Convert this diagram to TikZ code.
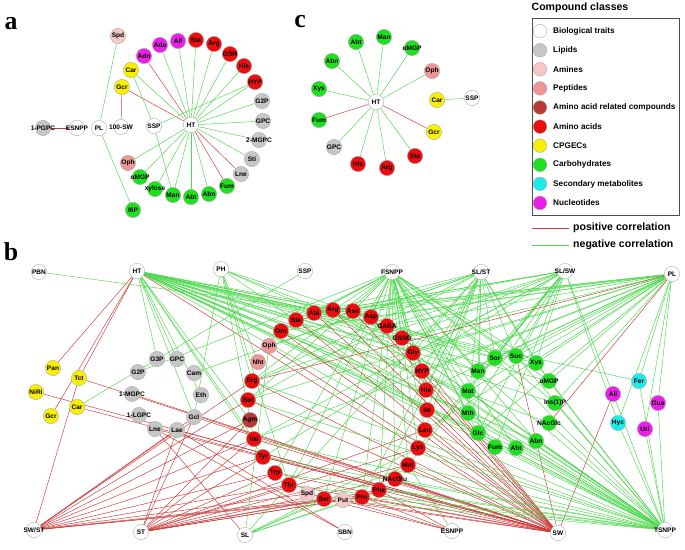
\documentclass[tikz,border=0pt]{standalone}
\usepackage{fontspec}
\setmainfont{Liberation Serif}
\setsansfont{Liberation Sans}
\usepackage{xcolor}
\usetikzlibrary{backgrounds}
\definecolor{Rim}{HTML}{A8A8A8}
\definecolor{LipidGray}{HTML}{C6C6C6}
\definecolor{AminePink}{HTML}{F5C8C8}
\definecolor{PeptidePink}{HTML}{EE9696}
\definecolor{AArelRed}{HTML}{BC3833}
\definecolor{AminoRed}{HTML}{EC0E0E}
\definecolor{CpgecYellow}{HTML}{F8F000}
\definecolor{CarbGreen}{HTML}{1EE01E}
\definecolor{SecCyan}{HTML}{1EEAEA}
\definecolor{NuclMagenta}{HTML}{EA1EEA}
\definecolor{PosRed}{HTML}{CC3A3A}
\definecolor{NegGreen}{HTML}{4ED84E}
\newcommand{\met}[4]{\node[#1] (#2) at (#3) {\makebox[0pt]{#4}};}
\tikzset{
  trait/.style={circle, draw=Rim, fill=white, line width=0.3pt, minimum size=4.6mm, inner sep=0pt, font=\sffamily\bfseries\fontsize{5.6}{6}\selectfont},
  lipid/.style={trait, fill=LipidGray},
  amine/.style={trait, fill=AminePink},
  peptide/.style={trait, fill=PeptidePink},
  aarel/.style={trait, fill=AArelRed},
  amino/.style={trait, fill=AminoRed},
  cpgec/.style={trait, fill=CpgecYellow},
  carb/.style={trait, fill=CarbGreen},
  secm/.style={trait, fill=SecCyan},
  nucl/.style={trait, fill=NuclMagenta},
  posline/.style={draw=PosRed, line width=0.4pt},
  negline/.style={draw=NegGreen, line width=0.4pt},
  panel/.style={font=\rmfamily\bfseries\fontsize{22}{22}\selectfont, inner sep=0pt},
  legtext/.style={anchor=west, inner sep=0pt, font=\sffamily\bfseries\fontsize{7}{8}\selectfont},
  keytext/.style={anchor=west, inner sep=0pt, font=\sffamily\bfseries\fontsize{9}{10}\selectfont}
}

\begin{document}
\begin{tikzpicture}[x=0.03cm, y=-0.03cm]
  \useasboundingbox (0,0) rectangle (685,549);

  % panel letters
  \node[panel] (labA) at (11,24) {a};
  \node[panel] (labB) at (11,252) {b};
  \node[panel] (labC) at (300,22) {c};

  % ---- panel a
  \met{amine}{aSpd}{118,36}{Spd}
  \met{nucl}{aAdn}{144,56}{Adn}
  \met{nucl}{aAde}{160,45}{Ade}
  \met{nucl}{aAll}{178,41}{All}
  \met{amino}{aSta}{196,40}{Sta}
  \met{amino}{aArg}{214,44}{Arg}
  \met{amino}{aGSH}{230,54}{GSH}
  \met{amino}{aHis}{244,66}{His}
  \met{amino}{aHYP}{255,82}{HYP}
  \met{lipid}{aG2P}{262,101}{G2P}
  \met{lipid}{aGPC}{263,121}{GPC}
  \met{lipid}{a2MGPC}{259,140}{2-MGPC}
  \met{lipid}{aSti}{252,159}{Sti}
  \met{lipid}{aLne}{241,174}{Lne}
  \met{carb}{aFum}{227,186}{Fum}
  \met{carb}{aAbn}{209,194}{Abn}
  \met{carb}{aAbt}{191,197}{Abt}
  \met{carb}{aMan}{173,195}{Man}
  \met{carb}{aXyl}{155,189}{xylose}
  \met{carb}{aMGP}{140,177}{αMGP}
  \met{carb}{aI6P}{133,210}{I6P}
  \met{peptide}{aOph}{128,163}{Oph}
  \met{cpgec}{aCar}{131,70}{Car}
  \met{cpgec}{aGcr}{122,87}{Gcr}
  \met{trait}{aHT}{191,125}{HT}
  \met{trait}{aSSP}{154,126}{SSP}
  \met{trait}{a100SW}{121,127}{100-SW}
  \met{trait}{aPL}{99,128}{PL}
  \met{trait}{aESNPP}{77,128}{ESNPP}
  \met{lipid}{a1PGPC}{43,128}{1-PGPC}

  \begin{scope}[on background layer]
    \foreach \m in {aAde,aAll,aSta,aArg,aGSH,aHis,aHYP,aG2P,aGPC,a2MGPC,aSti,aAbn,aAbt,aMan,aXyl,aMGP,aOph,aCar}
      \draw[negline] (aHT) -- (\m);
    \foreach \m in {aAdn,aGcr,aLne,aFum}
      \draw[posline] (aHT) -- (\m);
    \draw[negline] (aPL) -- (aSpd);
    \draw[negline] (aPL) -- (aI6P);
    \draw[negline] (aCar) -- (aSSP);
    \draw[negline] (aSSP) -- (aMan);
    \draw[negline] (aHYP) -- (aSSP);
    \draw[posline] (a1PGPC) -- (aESNPP);
    \draw[posline] (aGcr) -- (a100SW);
  \end{scope}

  % ---- panel c
  \met{carb}{cAbt}{356,42}{Abt}
  \met{carb}{cMan}{384,37}{Man}
  \met{carb}{cMGP}{412,48}{αMGP}
  \met{carb}{cAbn}{332,61}{Abn}
  \met{carb}{cXys}{319,89}{Xys}
  \met{carb}{cFum}{319,120}{Fum}
  \met{peptide}{cOph}{432,71}{Oph}
  \met{trait}{cHT}{376,102}{HT}
  \met{trait}{cSSP}{472,98}{SSP}
  \met{cpgec}{cCar}{437,100}{Car}
  \met{cpgec}{cGcr}{434,132}{Gcr}
  \met{lipid}{cGPC}{334,147}{GPC}
  \met{amino}{cHis}{358,164}{His}
  \met{amino}{cArg}{387,168}{Arg}
  \met{amino}{cSta}{415,156}{Sta}

  \begin{scope}[on background layer]
    \foreach \m in {cAbt,cMan,cMGP,cOph,cAbn,cXys,cGPC,cHis,cArg,cSta}
      \draw[negline] (cHT) -- (\m);
    \draw[posline] (cHT) -- (cFum);
    \draw[posline] (cHT) -- (cGcr);
    \draw[negline] (cCar) -- (cSSP);
  \end{scope}

  % ---- legend
  \node[font=\sffamily\bfseries\fontsize{9}{10}\selectfont, inner sep=0pt] (legTitle) at (580,8) {Compound classes};
  \node[draw=black!70, line width=0.4pt, minimum width=4.41cm, minimum height=5.91cm, inner sep=0pt] (legBox) at (605.5,116.5) {};
  \foreach \c/\txt [count=\i] in {white/Biological traits, LipidGray/Lipids, AminePink/Amines,
      PeptidePink/Peptides, AArelRed/Amino acid related compounds, AminoRed/Amino acids,
      CpgecYellow/CPGECs, CarbGreen/Carbohydrates, SecCyan/Secondary metabolites, NuclMagenta/Nucleotides} {
    \node[trait, fill=\c, minimum size=4.1mm] (key\i) at (540,12+19.1*\i) {};
    \node[legtext] (keyTxt\i) at (553,12+19.1*\i) {\txt};
  }
  \coordinate (posA) at (532,228);
  \coordinate (posB) at (569,228);
  \coordinate (negA) at (532,245);
  \coordinate (negB) at (569,245);
  \draw[posline, line width=0.6pt] (posA) -- (posB);
  \draw[negline, line width=0.6pt] (negA) -- (negB);
  \node[keytext] (posTxt) at (573,228) {positive correlation};
  \node[keytext] (negTxt) at (573,245) {negative correlation};

  % ---- panel b: traits
  \met{trait}{bPBN}{39,272}{PBN}
  \met{trait}{bHT}{137,271}{HT}
  \met{trait}{bPH}{221,269}{PH}
  \met{trait}{bSSP}{305,271}{SSP}
  \met{trait}{bFSNPP}{392,272}{FSNPP}
  \met{trait}{bSLST}{481,272}{SL/ST}
  \met{trait}{bSLSW}{565,271}{SL/SW}
  \met{trait}{bPL}{672,274}{PL}
  \met{trait}{bSWST}{34,530}{SW/ST}
  \met{trait}{bST}{141,532}{ST}
  \met{trait}{bSL}{245,535}{SL}
  \met{trait}{bSBN}{345,532}{SBN}
  \met{trait}{bESNPP}{452,531}{ESNPP}
  \met{trait}{bSW}{558,533}{SW}
  \met{trait}{bTSNPP}{665,530}{TSNPP}

  % CPGECs and lipids
  \met{cpgec}{bPan}{53,368}{Pan}
  \met{cpgec}{bTct}{79,378}{Tct}
  \met{cpgec}{bNiRi}{36,392}{NiRi}
  \met{cpgec}{bCar}{77,407}{Car}
  \met{cpgec}{bGcr}{51,416}{Gcr}
  \met{lipid}{bG3P}{157,359}{G3P}
  \met{lipid}{bGPC}{177,359}{GPC}
  \met{lipid}{bG2P}{138,372}{G2P}
  \met{lipid}{bCam}{194,373}{Cam}
  \met{lipid}{b1MGPC}{132,394}{1-MGPC}
  \met{lipid}{bEth}{201,395}{Eth}
  \met{lipid}{b1LGPC}{139,415}{1-LGPC}
  \met{lipid}{bGcl}{194,417}{Gcl}
  \met{lipid}{bLne}{155,429}{Lne}
  \met{lipid}{bLae}{177,430}{Lae}

  % amino acids, amines, peptides
  \met{peptide}{bOph}{269,346}{Oph}
  \met{peptide}{bNht}{258,362}{Nht}
  \met{amino}{bOrn}{281,331}{Orn}
  \met{amino}{bSta}{296,320}{Sta}
  \met{amino}{bAla}{314,313}{Ala}
  \met{amino}{bArg}{333,310}{Arg}
  \met{amino}{bAsn}{353,311}{Asn}
  \met{amino}{bAsp}{371,317}{Asp}
  \met{amino}{bGABA}{387,326}{GABA}
  \met{amino}{bGSSG}{402,338}{GSSG}
  \met{amino}{bGly}{413,353}{Gly}
  \met{amino}{bHYP}{422,371}{HYP}
  \met{amino}{bHis}{426,390}{His}
  \met{amino}{bIle}{427,410}{Ile}
  \met{amino}{bLeu}{425,430}{Leu}
  \met{amino}{bLys}{418,448}{Lys}
  \met{amino}{bMet}{408,465}{Met}
  \met{amino}{bNAcGlu}{395,479}{NAcGlu}
  \met{amino}{bPhe}{379,490}{Phe}
  \met{amino}{bPro}{362,497}{Pro}
  \met{amine}{bPut}{343,500}{Put}
  \met{amino}{bSer}{324,499}{Ser}
  \met{amine}{bSpd}{307,494}{Spd}
  \met{amino}{bThr}{289,485}{Thr}
  \met{amino}{bTrp}{275,473}{Trp}
  \met{amino}{bTyr}{263,457}{Tyr}
  \met{amino}{bVal}{254,439}{Val}
  \met{aarel}{bAgm}{250,420}{Agm}
  \met{amino}{bBet}{248,400}{Bet}
  \met{amino}{bErg}{252,381}{Erg}

  % carbohydrates, secondary metabolites, nucleotides
  \met{carb}{bSor}{495,358}{Sor}
  \met{carb}{bSuc}{516,356}{Suc}
  \met{carb}{bXys}{536,363}{Xys}
  \met{carb}{bMan}{478,371}{Man}
  \met{carb}{bMGP}{549,381}{αMGP}
  \met{carb}{bMat}{468,391}{Mat}
  \met{carb}{bInsP}{555,403}{Ins(1)P}
  \met{carb}{bMth}{468,413}{Mth}
  \met{carb}{bNAcGlc}{549,423}{NAcGlc}
  \met{carb}{bGlc}{478,433}{Glc}
  \met{carb}{bFum}{495,447}{Fum}
  \met{carb}{bAbt}{516,448}{Abt}
  \met{carb}{bAbn}{536,441}{Abn}
  \met{nucl}{bAll}{613,394}{All}
  \met{secm}{bFer}{639,381}{Fer}
  \met{nucl}{bGua}{658,403}{Gua}
  \met{secm}{bHyc}{618,423}{Hyc}
  \met{nucl}{bUri}{645,429}{Uri}

  \begin{scope}[on background layer]
    % top traits
    \foreach \m in {bSta,bAla,bArg,bAsn,bAsp,bGABA,bGSSG,bGly,bHYP,bHis,bIle,bLeu,bOrn,bAgm,bVal,bTyr,bGcl,bEth,bG3P,bGPC,bMan,bSor,bSuc,bXys,bMGP,bInsP,bMat,bMth,bGlc,bFum,bAbt,bAbn,bNAcGlc,bFer}
      \draw[negline] (bHT) -- (\m);
    \foreach \m in {bPan,bTct,bGcr,bLys}
      \draw[posline] (bHT) -- (\m);
    \draw[negline] (bPBN) -- (bAsp);
    \foreach \m in {bErg,bNht,bGcl,bMan,bSor,bGly,bIle,bVal,bThr}
      \draw[negline] (bPH) -- (\m);
    \draw[negline] (bSSP) -- (bCar);
    \foreach \m in {bOrn,bSta,bAla,bArg,bAsn,bAsp,bGABA,bGSSG,bGly,bHYP,bHis,bIle,bLeu,bLys,bMet,bErg,bBet,bG2P,bMan,bSor,bSuc,bXys,bMat,bMth,bGlc,bFum,bAbt,bAbn,bMGP,bInsP,bNAcGlu,bPhe,bPro,bSer,bThr,bTrp}
      \draw[negline] (bFSNPP) -- (\m);
    \foreach \m in {bAla,bAsn,bGly,bHYP,bHis,bIle,bLeu,bMan,bSor,bSuc,bXys,bMGP,bGlc,bMth,bErg,bBet,bOph,bCam,bPhe,bPro,bThr}
      \draw[negline] (bSLST) -- (\m);
    \foreach \m in {bSta,bAla,bArg,bGABA,bGSSG,bGly,bMan,bSor,bSuc,bXys,bMat,bMth,bGlc,bFum,bAll,bHyc,bTyr,bVal,bErg,bLys,bMet}
      \draw[negline] (bSLSW) -- (\m);
    \foreach \m in {bSta,bAla,bArg,bAsn,bAsp,bGABA,bGSSG,bGly,bHYP,bHis,bMan,bSor,bSuc,bXys,bMGP,bInsP,bMat,bGlc,bFer,bGua,bUri,bHyc,bOrn,bVal,bBet,bLeu}
      \draw[negline] (bPL) -- (\m);
    \draw[posline] (bPL) -- (bErg);
    \draw[posline] (bPL) -- (bNAcGlc);
    % bottom traits
    \foreach \m in {bTct,bGcl,bErg,bBet,bAgm,bVal,bTyr,bTrp,bThr,bSpd,bSer,bPut,bPro,bLae}
      \draw[posline] (bSWST) -- (\m);
    \foreach \m in {bLae,bGcl,bAgm,bVal,bTyr,bTrp,bThr,bSer,bPut,bPro,bPhe,bNAcGlu,bMet,bLys,bLeu}
      \draw[posline] (bST) -- (\m);
    \draw[posline] (bSL) -- (bLne);
    \foreach \m in {bThr,bSer,bPro,bPhe,bMet,bLys,bOph}
      \draw[negline] (bSL) -- (\m);
    \draw[posline] (bSBN) -- (bLne);
    \draw[posline] (bSBN) -- (bLae);
    \foreach \m in {bPut,bPro,bPhe,bSer}
      \draw[posline] (bESNPP) -- (\m);
    \draw[negline] (bESNPP) -- (bMet);
    \foreach \m in {bNiRi,bCar,bTct,b1MGPC,bLne,bLae,bGcl,bBet,bErg,bOrn,bSta,bAla,bArg,bAsn,bAsp,bGly,bHYP,bHis,bIle,bLeu,bLys,bMet,bNAcGlu,bPhe,bPro,bPut,bSer,bThr,bTrp,bTyr,bVal,bSuc,bAll,bOph}
      \draw[posline] (bSW) -- (\m);
    \foreach \m in {bSta,bAla,bArg,bAsn,bGly,bHYP,bHis,bIle,bLeu,bLys,bMet,bNAcGlu,bPhe,bPro,bSer,bThr,bTrp,bTyr,bVal,bMan,bSor,bSuc,bXys,bMGP,bInsP,bMat,bMth,bGlc,bFum,bAbt,bAbn,bNAcGlc,bHyc,bUri,bFer,bGua,bAll,bOrn,bBet,bErg}
      \draw[negline] (bTSNPP) -- (\m);
  \end{scope}
\end{tikzpicture}
\end{document}
